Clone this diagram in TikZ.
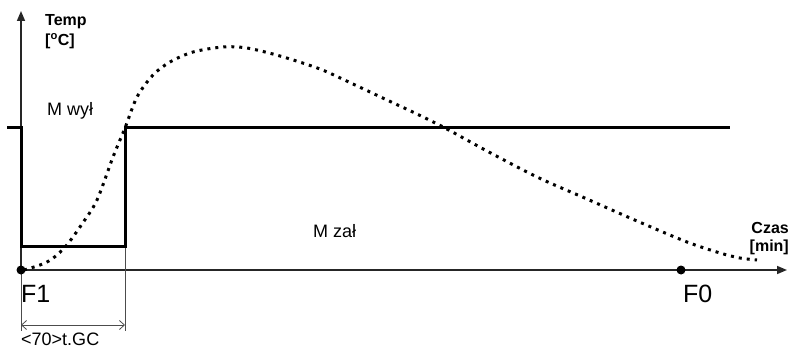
\documentclass[tikz,border=0pt]{standalone}
\usepackage{fontspec}
\setmainfont{Liberation Sans}
\usetikzlibrary{arrows.meta}
\begin{document}
\begin{tikzpicture}[x=1pt,y=-1pt,
  axis/.style={line width=1.5pt,draw=black!85,-{Triangle[length=10pt,width=8pt]}},
  guide/.style={line width=0.8pt,draw=black!70},
  lvl/.style={line width=3pt,line join=miter},
  tcurve/.style={line width=3pt,dash pattern=on 3pt off 5pt},
  dot/.style={circle,fill=black,inner sep=0pt,minimum size=9pt},
  lbl/.style={font=\fontsize{18}{20}\selectfont,inner sep=0pt,anchor=base west},
  big/.style={font=\fontsize{25}{27}\selectfont,inner sep=0pt,anchor=base west},
  axlbl/.style={font=\bfseries\fontsize{16}{18}\selectfont,inner sep=0pt}]
\useasboundingbox (0,0) rectangle (792,350);
% coordinates
\coordinate (O) at (21,270);
\coordinate (ytop) at (21,11);
\coordinate (xend) at (787,270);
\coordinate (ybot) at (21,331);
\coordinate (g2top) at (125,246);
\coordinate (g2bot) at (125,331);
\coordinate (dL) at (21,325);
\coordinate (dR) at (125,325);
% axes
\draw[axis] (O) -- (ytop);
\draw[axis] (O) -- (xend);
\draw[guide] (O) -- (ybot);
\draw[guide] (g2top) -- (g2bot);
\draw[guide,{Straight Barb[length=5pt,width=9pt]}-{Straight Barb[length=5pt,width=9pt]}] (dL) -- (dR);
% level line
\draw[lvl] (7,128) -- (21,128) -- (21,246) -- (125,246) -- (125,128) -- (730,128);
% temperature curve
\draw[tcurve] plot[smooth,tension=0.5] coordinates {(24,270) (40,265) (52,259) (66,246) (82,224) (97,200) (113,157) (125,128) (137,97) (153,75) (170,62) (193,52) (223,47) (247,48) (280,56) (320,69) (353,84) (387,100) (417,114) (445,128) (487,151) (537,177) (587,199) (637,221) (687,242) (720,253) (740,258) (757,260)};
% dots
\node[dot] (F1dot) at (O) {};
\node[dot] (F0dot) at (681,270) {};
% labels
\node[axlbl,anchor=base west] (temp) at (45,26) {Temp};
\node[axlbl,anchor=base west] (unitT) at (45,46) {[\textsuperscript{o}C]};
\node[axlbl,anchor=base east] (czas) at (789,233) {Czas};
\node[axlbl,anchor=base east] (unitX) at (789,251) {[min]};
\node[lbl] (mwyl) at (47,116) {M wył};
\node[lbl] (mzal) at (313,237) {M zał};
\node[big] (F1) at (21,302) {F1};
\node[big] (F0) at (683,302) {F0};
\node[font=\fontsize{18}{20}\selectfont,inner sep=0pt,anchor=base west] (tgc) at (21,345) {<70>t.GC};
\end{tikzpicture}
\end{document}
